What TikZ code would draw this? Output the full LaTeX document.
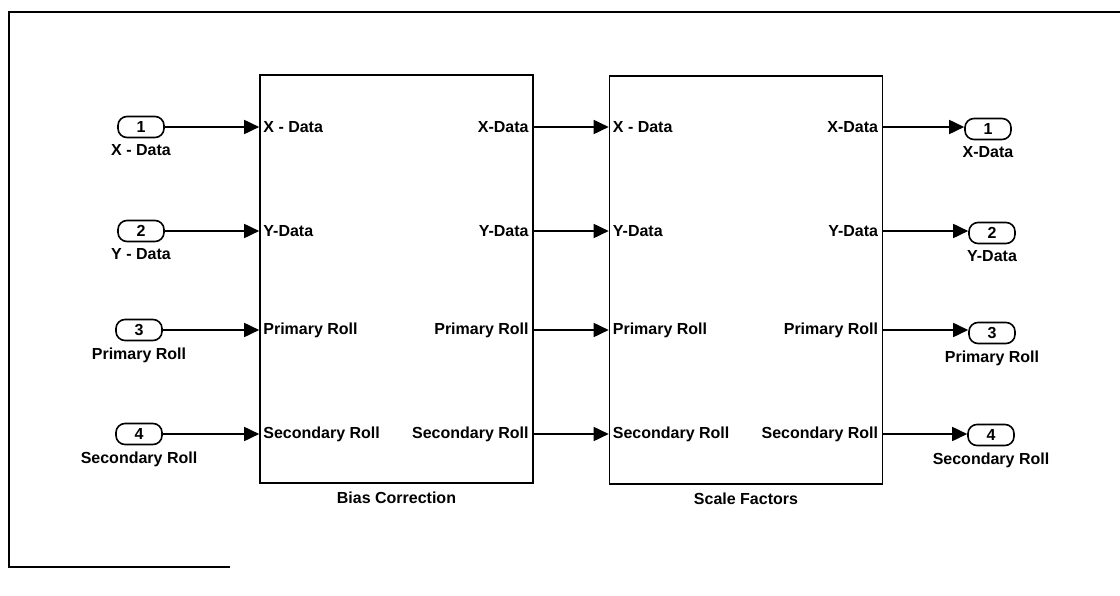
\documentclass[tikz,border=0pt]{standalone}
\usepackage{fontspec}
\setmainfont{Liberation Sans}
\usetikzlibrary{arrows.meta,positioning}

\tikzstyle{block}=[rectangle, draw=black, line width=1.6pt, minimum width=273pt, minimum height=408pt, inner sep=0pt]
\tikzstyle{port}=[rectangle, rounded corners=9pt, draw=black, line width=1.6pt, minimum width=46pt, minimum height=21pt, inner sep=0pt]
\tikzstyle{sigin}=[anchor=west, inner sep=4pt]
\tikzstyle{sigout}=[anchor=east, inner sep=5pt]
\tikzstyle{arrow2}=[line width=1.7pt, -{Triangle[length=15pt,width=14pt]}]

\begin{document}
\begin{tikzpicture}[x=1pt, y=-1pt, font=\fontsize{16}{19}\selectfont\bfseries, label distance=3pt]
\useasboundingbox (0,0) rectangle (1120,596);
% frame (cut off at the right)
\draw[line width=1.5pt] (230,567) -- (9,567) -- (9,12) -- (1120,12);

% blocks
\node (bias) [block, label={[label distance=5pt]below:Bias Correction}] at (396.5,279) {};
\node (scale) [block, label={[label distance=5pt]below:Scale Factors}] at (746,280) {};

% inports
\node (in1) [port, label=below:X - Data] at (141,127) {1};
\node (in2) [port, label=below:Y - Data] at (141,231) {2};
\node (in3) [port, label=below:Primary Roll] at (139,330) {3};
\node (in4) [port, label=below:Secondary Roll] at (139,434) {4};

% outports
\node (out1) [port, label=below:X-Data] at (988,129) {1};
\node (out2) [port, label=below:Y-Data] at (992,233) {2};
\node (out3) [port, label=below:Primary Roll] at (992,333) {3};
\node (out4) [port, label=below:Secondary Roll] at (991,435) {4};

% signals of bias correction
\node (b1i) [sigin] at (bias.west |- in1) {X - Data};
\node (b2i) [sigin] at (bias.west |- in2) {Y-Data};
\node (b3i) [sigin] at (bias.west |- in3) {Primary Roll};
\node (b4i) [sigin] at (bias.west |- in4) {Secondary Roll};
\node (b1o) [sigout] at (bias.east |- in1) {X-Data};
\node (b2o) [sigout] at (bias.east |- in2) {Y-Data};
\node (b3o) [sigout] at (bias.east |- in3) {Primary Roll};
\node (b4o) [sigout] at (bias.east |- in4) {Secondary Roll};

% signals of scale factors
\node (s1i) [sigin] at (scale.west |- in1) {X - Data};
\node (s2i) [sigin] at (scale.west |- in2) {Y-Data};
\node (s3i) [sigin] at (scale.west |- in3) {Primary Roll};
\node (s4i) [sigin] at (scale.west |- in4) {Secondary Roll};
\node (s1o) [sigout] at (scale.east |- in1) {X-Data};
\node (s2o) [sigout] at (scale.east |- in2) {Y-Data};
\node (s3o) [sigout] at (scale.east |- in3) {Primary Roll};
\node (s4o) [sigout] at (scale.east |- in4) {Secondary Roll};

\foreach \i in {1,2,3,4} {
  \draw[arrow2] (in\i) -- (b\i i.west);
  \draw[arrow2] (b\i o.east) -- (s\i i.west);
  \draw[arrow2] (s\i o.east) -- (out\i.west |- s\i o.east);
}
\end{tikzpicture}
\end{document}
